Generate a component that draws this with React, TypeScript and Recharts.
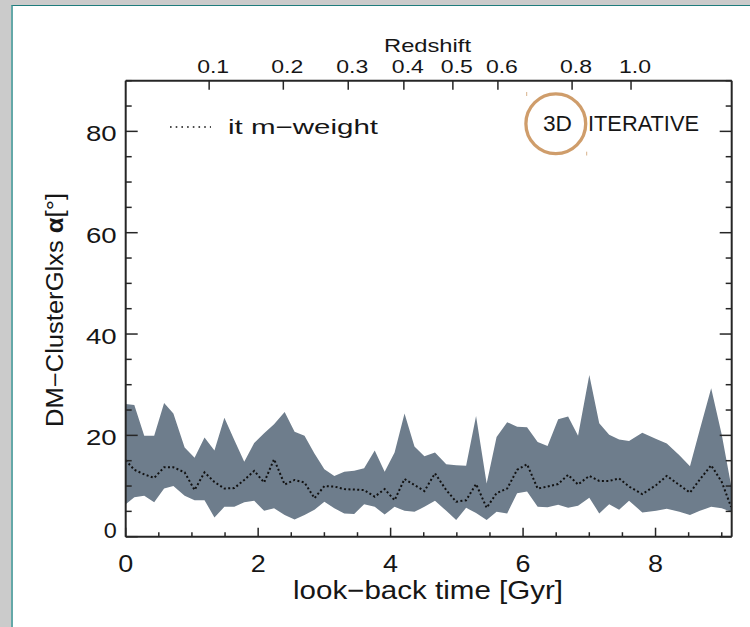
import React from 'react';
import { ComposedChart, Area, Line, XAxis, YAxis } from 'recharts';

// Look-back time of each snapshot [Gyr]
const lookbackGyr = [
  0.0, 0.13, 0.28, 0.43, 0.58, 0.72, 0.89, 1.04, 1.19, 1.34, 1.49, 1.64, 1.79, 1.94, 2.09,
  2.24, 2.4, 2.55, 2.7, 2.85, 3.0, 3.15, 3.3, 3.45, 3.6, 3.76, 3.91, 4.06, 4.21, 4.36,
  4.51, 4.67, 4.84, 4.99, 5.14, 5.29, 5.45, 5.6, 5.76, 5.91, 6.06, 6.22, 6.37, 6.53, 6.68,
  6.83, 7.0, 7.15, 7.3, 7.45, 7.6, 7.8, 8.01, 8.17, 8.36, 8.52, 8.67, 8.84, 9.0, 9.14,
];

// Upper edge of the alignment-angle spread [deg]
const alphaUpper = [
  26.2, 26.0, 19.9, 19.9, 26.4, 24.3, 17.6, 15.6, 19.6, 17.0, 23.5, 19.1, 14.8, 18.5, 20.4,
  22.2, 24.6, 20.7, 19.9, 16.4, 13.3, 12.0, 12.8, 13.0, 13.5, 17.0, 12.8, 16.6, 24.3, 17.8,
  15.9, 16.6, 14.3, 14.1, 14.0, 23.8, 10.5, 19.7, 22.6, 21.7, 21.6, 18.7, 17.9, 23.2, 23.7,
  19.9, 31.9, 22.4, 20.1, 19.2, 18.9, 20.5, 19.3, 18.4, 16.1, 13.9, 21.2, 29.3, 20.1, 10.2,
];

// Lower edge of the alignment-angle spread [deg]
const alphaLower = [
  6.4, 7.8, 8.1, 6.8, 9.5, 10.0, 8.1, 7.2, 7.2, 3.8, 5.9, 5.9, 6.8, 7.1, 5.1,
  5.6, 4.3, 3.4, 4.3, 5.3, 6.9, 5.6, 4.6, 4.5, 6.4, 5.9, 4.4, 5.9, 5.1, 4.9,
  5.9, 7.1, 5.1, 3.3, 5.7, 4.7, 3.3, 4.9, 4.6, 8.6, 8.9, 5.9, 5.8, 6.3, 5.7,
  6.1, 7.7, 4.6, 6.4, 5.3, 7.1, 4.8, 5.1, 5.5, 4.9, 4.3, 5.1, 5.9, 5.6, 4.9,
];

// Mass-weighted alignment angle [deg]
const alphaMassWeighted = [
  15.1, 13.2, 12.3, 11.6, 13.7, 13.7, 12.7, 9.2, 12.7, 10.8, 9.5, 9.6, 11.2, 13.0, 10.7,
  15.3, 10.3, 11.2, 10.7, 7.6, 10.0, 9.9, 9.4, 9.3, 9.2, 7.9, 9.4, 7.2, 11.4, 10.2,
  9.0, 12.5, 9.2, 6.9, 7.2, 10.4, 5.7, 8.6, 9.5, 13.2, 14.3, 9.5, 9.9, 10.4, 12.2,
  10.3, 12.0, 11.0, 11.0, 11.5, 9.9, 8.4, 10.2, 12.0, 10.2, 8.7, 11.3, 14.1, 10.8, 5.9,
];

// Axis ticks
const timeTicks = [0, 0.5, 1, 1.5, 2, 2.5, 3, 3.5, 4, 4.5, 5, 5.5, 6, 6.5, 7, 7.5, 8, 8.5, 9];
const timeMajor = [0, 2, 4, 6, 8];
const angleTicks = [0, 5, 10, 15, 20, 25, 30, 35, 40, 45, 50, 55, 60, 65, 70, 75, 80, 85, 90];
const angleMajor = [0, 20, 40, 60, 80];
const redshiftTickGyr = [1.26, 2.38, 3.36, 4.2, 4.94, 5.62, 6.74, 7.63];
const redshiftLabels = ['0.1', '0.2', '0.3', '0.4', '0.5', '0.6', '0.8', '1.0'];

const rows = lookbackGyr.map((t, i) => ({
  t,
  band: [alphaLower[i], alphaUpper[i]],
  mid: alphaMassWeighted[i],
}));

const FONT = 'Liberation Sans';
const INK = '#161616';
const AXIS = '#262626';

const BottomTick = (props: any) => {
  const { x, y, payload } = props;
  const v = payload.value;
  const major = timeMajor.includes(v);
  return (
    <g>
      <line x1={x} x2={x} y1={y} y2={y - (major ? 9 : 4.5)} stroke={AXIS} strokeWidth={1.5} />
      {major && (
        <text x={x} y={y + 35} textAnchor="middle" fontFamily={FONT} fontSize={23.5} fill={INK}
          textLength={15} lengthAdjust="spacingAndGlyphs">{v}</text>
      )}
    </g>
  );
};

const TopTick = (props: any) => {
  const { x, y, payload } = props;
  const idx = redshiftTickGyr.indexOf(payload.value);
  return (
    <g>
      <line x1={x} x2={x} y1={y} y2={y + 9} stroke={AXIS} strokeWidth={1.5} />
      <text x={x + 4} y={y - 8.2} textAnchor="middle" fontFamily={FONT} fontSize={18} fill={INK}
        textLength={32} lengthAdjust="spacingAndGlyphs">{redshiftLabels[idx]}</text>
    </g>
  );
};

const LeftTick = (props: any) => {
  const { x, y, payload } = props;
  const v = payload.value;
  const major = angleMajor.includes(v);
  const label = String(v);
  return (
    <g>
      <line x1={x} x2={x + (major ? 12 : 6)} y1={y} y2={y} stroke={AXIS} strokeWidth={1.5} />
      {major && (
        <text x={x - 9} y={v === 0 ? y + 1.3 : y + 10} textAnchor="end" fontFamily={FONT} fontSize={22.5}
          fill={INK} textLength={label.length === 1 ? 13 : 30.7} lengthAdjust="spacingAndGlyphs">{label}</text>
      )}
    </g>
  );
};

const RightTick = (props: any) => {
  const { x, y, payload } = props;
  const major = angleMajor.includes(payload.value);
  return <line x1={x} x2={x - (major ? 12 : 6)} y1={y} y2={y} stroke={AXIS} strokeWidth={1.5} />;
};

export default function App() {
  return (
    <div style={{ position: 'absolute', left: 0, top: 0, width: 750, height: 627, overflow: 'hidden', background: '#cbcbcb' }}>
      <div
        style={{
          position: 'absolute', left: 11, top: 5, width: 760, height: 640, background: '#ffffff',
          borderLeft: '2px solid #64a8a8', borderTop: '1.5px solid #1f7c7c', boxSizing: 'border-box',
        }}
      />
      <div style={{ position: 'absolute', left: 0, top: 0 }}>
        <ComposedChart width={750} height={627} data={rows}
          margin={{ top: 50.7, right: 8.3, bottom: 60.3, left: 65.7 }}>
          <Area xAxisId="b" yAxisId="l" dataKey="band" type="linear" stroke="none" fill="#6e7d8c"
            fillOpacity={1} isAnimationActive={false} activeDot={false} />
          <Line xAxisId="b" yAxisId="l" dataKey="mid" type="linear" stroke="#111111" strokeWidth={2}
            strokeDasharray="2 2.4" dot={false} activeDot={false} isAnimationActive={false} />
          <XAxis xAxisId="b" orientation="bottom" type="number" dataKey="t" domain={[0, 9.15]}
            allowDataOverflow ticks={timeTicks} interval={0} height={30} tickSize={0} tickMargin={0}
            tickLine={false} axisLine={{ stroke: AXIS, strokeWidth: 2 }} tick={<BottomTick />} />
          <XAxis xAxisId="t" orientation="top" type="number" dataKey="t" domain={[0, 9.15]}
            allowDataOverflow ticks={redshiftTickGyr} interval={0} height={30} tickSize={0} tickMargin={0}
            tickLine={false} axisLine={{ stroke: AXIS, strokeWidth: 2 }} tick={<TopTick />} />
          <YAxis yAxisId="l" orientation="left" type="number" domain={[0, 90]} allowDataOverflow
            ticks={angleTicks} interval={0} width={60} tickSize={0} tickMargin={0} tickLine={false}
            axisLine={{ stroke: AXIS, strokeWidth: 2 }} tick={<LeftTick />} />
          <YAxis yAxisId="r" orientation="right" type="number" domain={[0, 90]} allowDataOverflow
            ticks={angleTicks} interval={0} width={10} tickSize={0} tickMargin={0} tickLine={false}
            axisLine={{ stroke: AXIS, strokeWidth: 2 }} tick={<RightTick />} />
        </ComposedChart>
      </div>
      <svg width={750} height={627} style={{ position: 'absolute', left: 0, top: 0, pointerEvents: 'none' }}>
        <text x={427.5} y={51.7} textAnchor="middle" fontFamily={FONT} fontSize={19} fill={INK}
          textLength={87} lengthAdjust="spacingAndGlyphs">Redshift</text>
        <text x={428} y={599} textAnchor="middle" fontFamily={FONT} fontSize={25.5} fill={INK}
          textLength={270} lengthAdjust="spacingAndGlyphs">look−back time [Gyr]</text>
        <text x={0} y={0} transform="translate(63.3,310) rotate(-90)" textAnchor="middle" fontFamily={FONT}
          fontSize={23} fill={INK} textLength={234} lengthAdjust="spacingAndGlyphs">
          DM−ClusterGlxs <tspan fontWeight="bold">α</tspan>[°]
        </text>
        <line x1={170} x2={211} y1={127} y2={127} stroke="#111111" strokeWidth={1.6} strokeDasharray="1.6 4.1" />
        <text x={228} y={134} fontFamily={FONT} fontSize={21} fill={INK}
          textLength={150} lengthAdjust="spacingAndGlyphs">it m−weight</text>
        <text x={543} y={130.7} fontFamily={FONT} fontSize={22} fill={INK}
          textLength={29} lengthAdjust="spacingAndGlyphs">3D</text>
        <text x={588} y={130.7} fontFamily={FONT} fontSize={22} fill={INK}
          textLength={111} lengthAdjust="spacingAndGlyphs">ITERATIVE</text>
        <circle cx={555.8} cy={123.7} r={29.9} fill="none" stroke="#cf9d6b" strokeWidth={3.3} />
        <line x1={526.7} x2={526.7} y1={92} y2={96} stroke="#d8b28c" strokeWidth={1} />
        <line x1={586.7} x2={586.7} y1={151.7} y2={155.5} stroke="#d8b28c" strokeWidth={1} />
      </svg>
    </div>
  );
}
